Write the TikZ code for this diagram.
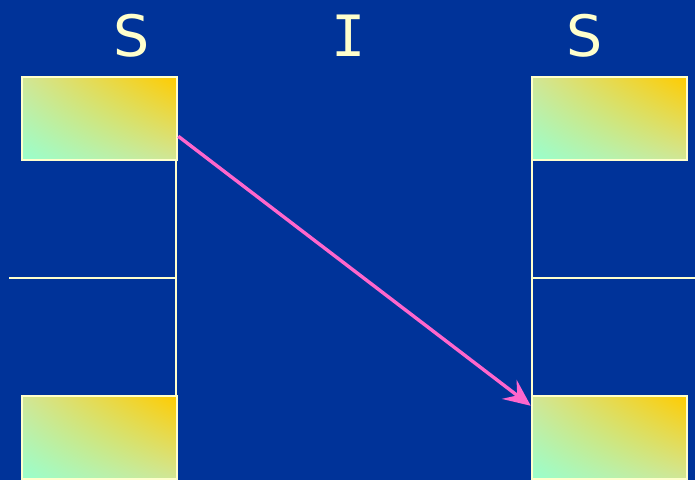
\documentclass[tikz,border=0pt]{standalone}
\usepackage{fontspec}
\setmainfont{DejaVu Sans}
\newfontfamily\serifI{DejaVu Sans Mono}
\usepackage{tikz}
\usetikzlibrary{positioning,arrows,arrows.meta,calc,shadings}

\definecolor{bgblue}{HTML}{003399}
\definecolor{paleyel}{HTML}{FFFFCC}
\definecolor{aqua}{HTML}{99FFCC}
\definecolor{gold}{HTML}{FFCC00}
\definecolor{midmix}{HTML}{D2E696}
\definecolor{pinkarr}{HTML}{FF66CC}

\tikzset{
  cell/.style={shade, draw=paleyel, line width=2.5pt,
    lower left=aqua, upper right=gold, upper left=midmix, lower right=midmix,
    minimum width=155pt, minimum height=83pt, inner sep=0pt},
  rail/.style={paleyel, line width=2.4pt},
  letter/.style={text=paleyel, font=\fontsize{57}{60}\selectfont, inner sep=0pt},
}

\begin{document}
\begin{tikzpicture}[x=1pt, y=-1pt]
%
    \fill[bgblue] (0,0) rectangle (695,480);
    \useasboundingbox (0,0) rectangle (695,480);
%
    \node[letter] (sL) at (132,36) {S};
    \node[letter] (iM) at (349,36) {\serifI I};
    \node[letter] (sR) at (585,36) {S};
%
    \coordinate (lfoot) at (176,480);
    \coordinate (rfoot) at (532,480);
    \coordinate (lbar) at (9,278);
    \coordinate (lmid) at (176,278);
    \coordinate (rmid) at (532,278);
    \coordinate (rbar) at (695,278);
%
    \draw[rail] (176,77) -- (lfoot);
    \draw[rail] (532,77) -- (rfoot);
    \draw[rail] (lbar) -- (lmid);
    \draw[rail] (rmid) -- (rbar);
%
    \node[cell] (ltop) at (99.5,118.5) {};
    \node[cell] (lbot) at (99.5,437.5) {};
    \node[cell] (rtop) at (609.5,118.5) {};
    \node[cell] (rbot) at (609.5,437.5) {};
%
    \coordinate (from) at ($(ltop.south east)+(0,-25)$);
    \coordinate (to)   at ($(rbot.north west)+(0,11)$);
    \draw[pinkarr, line width=3.4pt,
      -{Stealth[length=27pt,width=24pt,inset=10pt]}] (from) -- (to);
  \end{tikzpicture}
\end{document}
